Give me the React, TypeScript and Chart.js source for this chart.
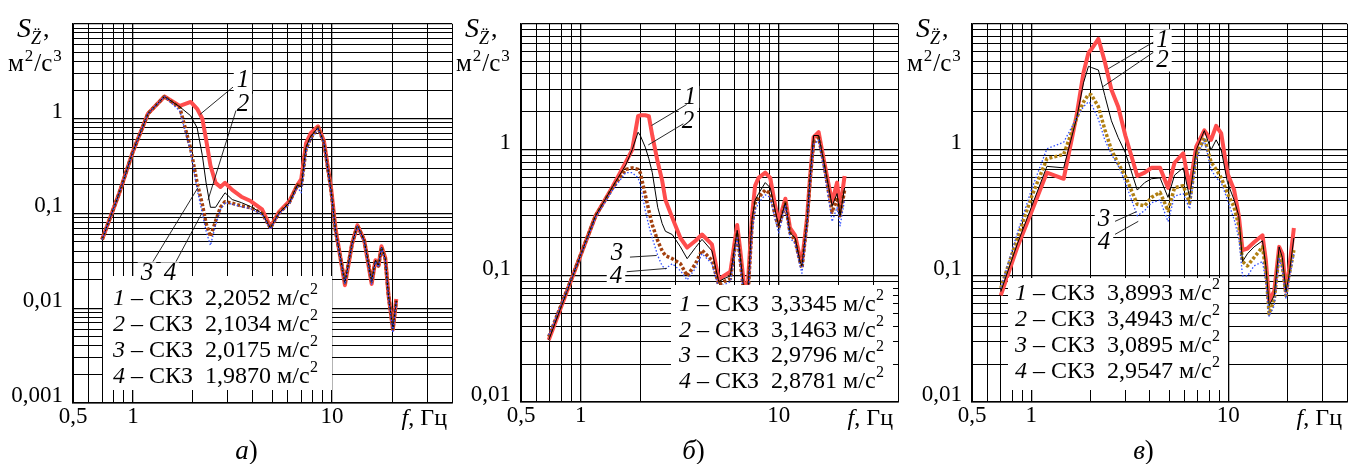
import { useEffect, useRef } from "react";
import { Chart, registerables } from "chart.js";

Chart.register(...registerables);

const SERIF = "'Liberation Serif', 'Times New Roman', serif";

// ---- shared axes ----
const X_TICKS = [0.5, 0.6, 0.7, 0.8, 0.9, 1, 2, 3, 4, 5, 6, 7, 8, 9, 10, 20, 30, 40];
const X_LABEL_VALUES = [0.5, 1, 10];
const X_LABEL_TEXT = ["0,5", "1", "10"];

const Y_LABEL_VALUES_A = [1, 0.1, 0.01, 0.001];
const Y_LABEL_TEXT_A = ["1", "0,1", "0,01", "0,001"];
const Y_LABEL_VALUES_BV = [1, 0.1, 0.01];
const Y_LABEL_TEXT_BV = ["1", "0,1", "0,01"];

const SERIES_NAMES = ["1", "2", "3", "4"];

// ---- panel а ----
const FREQ_A = [0.7, 0.85, 1.0, 1.19, 1.44, 1.72, 1.95, 2.1, 2.23, 2.33, 2.45, 2.6, 2.75, 2.9, 3.15, 3.5, 3.9, 4.45, 4.9, 5.4, 6.1, 6.7, 7.0, 7.4, 7.8, 8.5, 9.1, 9.9, 10.4, 11.6, 12.6, 13.4, 14.5, 15.8, 16.5, 17.1, 17.7, 18.5, 19.2, 20.2, 21.0];
const A_S1 = [0.053, 0.16, 0.45, 1.13, 1.71, 1.36, 1.5, 1.27, 1.0, 0.6, 0.32, 0.21, 0.19, 0.21, 0.177, 0.15, 0.135, 0.11, 0.072, 0.103, 0.135, 0.2, 0.23, 0.55, 0.7, 0.83, 0.58, 0.18, 0.07, 0.0175, 0.048, 0.075, 0.052, 0.018, 0.032, 0.028, 0.045, 0.034, 0.0137, 0.006, 0.0125];
const A_S2 = [0.053, 0.16, 0.45, 1.13, 1.71, 1.33, 1.07, 0.8, 0.41, 0.21, 0.116, 0.116, 0.14, 0.165, 0.14, 0.13, 0.118, 0.1, 0.07, 0.1, 0.13, 0.2, 0.19, 0.5, 0.65, 0.8, 0.56, 0.17, 0.066, 0.0185, 0.048, 0.074, 0.052, 0.019, 0.032, 0.028, 0.044, 0.033, 0.0135, 0.006, 0.012];
const A_S3 = [0.053, 0.16, 0.45, 1.13, 1.71, 1.3, 0.48, 0.21, 0.125, 0.078, 0.057, 0.083, 0.116, 0.133, 0.128, 0.12, 0.115, 0.1, 0.07, 0.1, 0.13, 0.2, 0.19, 0.48, 0.62, 0.8, 0.56, 0.17, 0.066, 0.0185, 0.048, 0.075, 0.052, 0.019, 0.032, 0.028, 0.044, 0.033, 0.0135, 0.006, 0.012];
const A_S4 = [0.053, 0.16, 0.45, 1.13, 1.71, 1.2, 0.45, 0.18, 0.1, 0.065, 0.046, 0.075, 0.11, 0.13, 0.125, 0.118, 0.112, 0.098, 0.068, 0.098, 0.125, 0.19, 0.165, 0.45, 0.6, 0.78, 0.55, 0.16, 0.064, 0.018, 0.047, 0.073, 0.05, 0.018, 0.031, 0.027, 0.043, 0.032, 0.013, 0.0055, 0.0115];
const RMS_A = ["2,2052", "2,1034", "2,0175", "1,9870"];

// ---- panel б ----
const FREQ_B = [0.69, 0.91, 1.19, 1.45, 1.69, 1.82, 1.95, 2.0, 2.12, 2.21, 2.3, 2.45, 2.58, 2.68, 2.9, 3.19, 3.45, 3.8, 4.1, 4.6, 4.98, 5.28, 5.7, 6.17, 6.4, 6.65, 6.93, 7.33, 7.6, 7.91, 8.55, 9.06, 9.6, 10.0, 10.8, 11.4, 12.1, 12.8, 13.1, 13.9, 14.4, 15.0, 15.9, 16.9, 17.9, 18.6, 19.7, 20.4, 21.5];
const B_S1 = [0.031, 0.099, 0.3, 0.51, 0.8, 1.0, 1.85, 1.88, 1.88, 1.85, 1.3, 0.8, 0.57, 0.4, 0.29, 0.2, 0.168, 0.19, 0.213, 0.178, 0.093, 0.1, 0.108, 0.254, 0.158, 0.09, 0.07, 0.3, 0.52, 0.6, 0.66, 0.6, 0.36, 0.27, 0.41, 0.24, 0.21, 0.14, 0.13, 0.29, 0.62, 1.26, 1.38, 0.83, 0.52, 0.385, 0.55, 0.34, 0.62];
const B_S2 = [0.031, 0.099, 0.3, 0.51, 0.76, 1.0, 1.38, 1.3, 1.05, 0.85, 0.66, 0.35, 0.26, 0.226, 0.213, 0.17, 0.137, 0.168, 0.195, 0.158, 0.09, 0.095, 0.1, 0.23, 0.14, 0.08, 0.06, 0.28, 0.4, 0.45, 0.55, 0.5, 0.33, 0.25, 0.38, 0.22, 0.2, 0.13, 0.12, 0.27, 0.6, 1.3, 1.3, 0.8, 0.5, 0.36, 0.45, 0.3, 0.5];
const B_S3 = [0.033, 0.1, 0.3, 0.5, 0.7, 0.72, 0.7, 0.66, 0.44, 0.33, 0.254, 0.19, 0.158, 0.145, 0.137, 0.125, 0.1, 0.125, 0.16, 0.133, 0.085, 0.09, 0.095, 0.22, 0.13, 0.075, 0.055, 0.25, 0.38, 0.42, 0.48, 0.45, 0.3, 0.24, 0.38, 0.22, 0.19, 0.13, 0.115, 0.27, 0.58, 1.15, 1.25, 0.78, 0.45, 0.32, 0.42, 0.3, 0.48];
const B_S4 = [0.034, 0.1, 0.29, 0.48, 0.66, 0.66, 0.6, 0.53, 0.33, 0.25, 0.2, 0.145, 0.12, 0.114, 0.125, 0.11, 0.093, 0.115, 0.15, 0.125, 0.08, 0.085, 0.09, 0.2, 0.12, 0.07, 0.05, 0.22, 0.33, 0.38, 0.44, 0.42, 0.28, 0.22, 0.36, 0.2, 0.18, 0.12, 0.105, 0.25, 0.55, 1.1, 1.2, 0.7, 0.4, 0.27, 0.35, 0.25, 0.4];
const RMS_B = ["3,3345", "3,1463", "2,9796", "2,8781"];

// ---- panel в ----
const FREQ_V = [0.7, 0.85, 1.0, 1.2, 1.46, 1.7, 1.84, 1.95, 2.02, 2.19, 2.36, 2.55, 2.76, 3.0, 3.45, 3.76, 4.07, 4.5, 4.94, 5.33, 5.9, 6.36, 6.87, 7.55, 8.17, 8.67, 9.2, 9.9, 10.7, 11.3, 11.8, 12.5, 13.5, 14.9, 15.5, 16.1, 17.1, 18.1, 18.8, 19.6, 20.3, 21.5];
const V_S1 = [0.07, 0.17, 0.32, 0.66, 0.59, 1.9, 4.1, 5.9, 6.3, 7.6, 5.0, 3.0, 2.2, 1.3, 0.62, 0.66, 0.72, 0.72, 0.5, 0.79, 0.94, 0.5, 1.06, 1.43, 1.2, 1.55, 1.35, 0.65, 0.48, 0.3, 0.16, 0.165, 0.185, 0.21, 0.133, 0.063, 0.076, 0.17, 0.15, 0.076, 0.11, 0.24];
const V_S2 = [0.075, 0.18, 0.35, 0.74, 0.72, 1.8, 3.4, 4.6, 4.5, 4.3, 2.7, 1.7, 1.25, 0.95, 0.48, 0.55, 0.59, 0.6, 0.42, 0.63, 0.72, 0.42, 1.0, 1.42, 1.0, 1.2, 1.0, 0.55, 0.4, 0.3, 0.13, 0.15, 0.17, 0.19, 0.12, 0.058, 0.07, 0.17, 0.14, 0.075, 0.1, 0.2];
const V_S3 = [0.08, 0.2, 0.42, 0.85, 0.92, 1.8, 2.4, 2.75, 2.72, 2.2, 1.45, 1.0, 0.78, 0.62, 0.37, 0.36, 0.42, 0.46, 0.33, 0.5, 0.52, 0.38, 0.9, 1.25, 0.8, 0.7, 0.6, 0.45, 0.35, 0.25, 0.13, 0.12, 0.14, 0.17, 0.11, 0.05, 0.065, 0.15, 0.12, 0.07, 0.1, 0.16];
const V_S4 = [0.08, 0.22, 0.48, 1.02, 1.15, 1.8, 2.2, 2.4, 2.3, 1.75, 1.2, 0.92, 0.75, 0.55, 0.3, 0.33, 0.38, 0.4, 0.27, 0.43, 0.45, 0.34, 0.85, 1.2, 0.7, 0.6, 0.55, 0.4, 0.28, 0.2, 0.1, 0.1, 0.12, 0.13, 0.09, 0.048, 0.058, 0.14, 0.11, 0.066, 0.09, 0.15];
const RMS_V = ["3,8993", "3,4943", "3,0895", "2,9547"];

// Curve callouts: label position, leader line start and end (Hz, m²/s³)
type Callout = { text: string; at: number[]; from: number[]; to: number[] };
const CALLOUTS_A: Callout[] = [
  { text: "1", at: [3.57, 2.53], from: [3.18, 2.15], to: [2.17, 1.106] },
  { text: "2", at: [3.57, 1.4], from: [3.29, 1.216], to: [2.38, 0.1376] },
  { text: "3", at: [1.176, 0.0233], from: [1.26, 0.031], to: [2.12, 0.187] },
  { text: "4", at: [1.534, 0.0233], from: [1.645, 0.031], to: [2.22, 0.101] },
];
const CALLOUTS_B: Callout[] = [
  { text: "1", at: [3.565, 2.63], from: [3.43, 2.29], to: [2.28, 1.56] },
  { text: "2", at: [3.48, 1.69], from: [3.3, 1.61], to: [2.195, 1.094] },
  { text: "3", at: [1.526, 0.1497], from: [1.774, 0.141], to: [2.42, 0.1453] },
  { text: "4", at: [1.508, 0.0994], from: [1.708, 0.108], to: [2.72, 0.1147] },
];
const CALLOUTS_V: Callout[] = [
  { text: "1", at: [4.63, 7.39], from: [4.16, 7.15], to: [2.457, 4.4] },
  { text: "2", at: [4.63, 5.12], from: [4.16, 5.93], to: [2.318, 3.185] },
  { text: "3", at: [2.337, 0.279], from: [2.66, 0.271], to: [3.42, 0.3236] },
  { text: "4", at: [2.337, 0.1854], from: [2.66, 0.2138], to: [3.49, 0.271] },
];

const RED = "#ff4d4d";
const BLUE = "#2f4dff";
const BROWN = "#a3400f";
const OCHRE = "#b07f12";

function decadeTicks(minExp: number, maxExp: number) {
  const out: number[] = [];
  for (let e = minExp; e < maxExp; e++) {
    for (let k = 1; k <= 9; k++) out.push(Number((k * Math.pow(10, e)).toPrecision(6)));
  }
  out.push(Math.pow(10, maxExp));
  return out;
}

const sameValue = (a: number, b: number) => Math.abs(Math.log10(a) - Math.log10(b)) < 1e-6;
const isDecade = (v: number) => {
  const l = Math.log10(v);
  return Math.abs(l - Math.round(l)) < 1e-6;
};

type Run = { text: string; font: string; dy?: number; dx?: number };
function runsWidth(ctx: CanvasRenderingContext2D, runs: Run[]) {
  let w = 0;
  for (const r of runs) {
    ctx.font = r.font;
    w += (r.dx || 0) + ctx.measureText(r.text).width;
  }
  return w;
}
function drawRuns(ctx: CanvasRenderingContext2D, x: number, y: number, runs: Run[]) {
  ctx.fillStyle = "#000";
  ctx.textAlign = "left";
  ctx.textBaseline = "alphabetic";
  let cx = x;
  for (const r of runs) {
    ctx.font = r.font;
    cx += r.dx || 0;
    ctx.fillText(r.text, cx, y + (r.dy || 0));
    cx += ctx.measureText(r.text).width;
  }
}

type LegendBox = { left: number; top: number; width: number; height: number; textLeft: number; firstBaseline: number; gap: number };

type PanelDef = {
  key: string;
  left: number;
  width: number;
  yWidth: number;
  padRight: number;
  xHeight: number;
  yMin: number;
  yTicks: number[];
  yLabelValues: number[];
  yLabelText: string[];
  freq: number[];
  series: number[][];
  brown: string;
  rms: string[];
  callouts: Callout[];
  legend: LegendBox;
  caption: string;
};

const PANELS: PanelDef[] = [
  {
    key: "a", left: 0, width: 462, yWidth: 73, padRight: 10, xHeight: 61, yMin: 0.001,
    yTicks: decadeTicks(-3, 1), yLabelValues: Y_LABEL_VALUES_A, yLabelText: Y_LABEL_TEXT_A,
    freq: FREQ_A, series: [A_S1, A_S2, A_S3, A_S4], brown: BROWN, rms: RMS_A, callouts: CALLOUTS_A,
    legend: { left: 30, top: 276, width: 229, height: 114, textLeft: 40, firstBaseline: 29, gap: 26 },
    caption: "а",
  },
  {
    key: "b", left: 455, width: 448, yWidth: 66, padRight: 5, xHeight: 62, yMin: 0.01,
    yTicks: decadeTicks(-2, 1), yLabelValues: Y_LABEL_VALUES_BV, yLabelText: Y_LABEL_TEXT_BV,
    freq: FREQ_B, series: [B_S1, B_S2, B_S3, B_S4], brown: BROWN, rms: RMS_B, callouts: CALLOUTS_B,
    legend: { left: 150, top: 285, width: 222, height: 116, textLeft: 158, firstBaseline: 26, gap: 25.7 },
    caption: "б",
  },
  {
    key: "v", left: 905, width: 443, yWidth: 67, padRight: 1, xHeight: 62, yMin: 0.01,
    yTicks: decadeTicks(-2, 1), yLabelValues: Y_LABEL_VALUES_BV, yLabelText: Y_LABEL_TEXT_BV,
    freq: FREQ_V, series: [V_S1, V_S2, V_S3, V_S4], brown: OCHRE, rms: RMS_V, callouts: CALLOUTS_V,
    legend: { left: 36, top: 278, width: 220, height: 112, textLeft: 43, firstBaseline: 22, gap: 26 },
    caption: "в",
  },
];

function makeDecor(p: PanelDef) {
  return {
    id: "decor",
    afterDatasetsDraw(chart: any) {
      const { ctx, chartArea: ca, scales } = chart;
      const px = (f: number) => scales.x.getPixelForValue(f);
      const py = (v: number) => scales.y.getPixelForValue(v);
      ctx.save();

      // legend with RMS values
      const lg = p.legend;
      ctx.fillStyle = "#fff";
      ctx.fillRect(ca.left + lg.left, lg.top, lg.width, lg.height);
      p.rms.forEach((val, i) => {
        drawRuns(ctx, ca.left + lg.textLeft, lg.top + lg.firstBaseline + i * lg.gap, [
          { text: SERIES_NAMES[i], font: `italic 24px ${SERIF}` },
          { text: ` – СКЗ  ${val} м/с`, font: `24px ${SERIF}` },
          { text: "2", font: `16px ${SERIF}`, dy: -11, dx: 0.5 },
        ]);
      });

      // curve callouts
      const labelFont = `italic 25px ${SERIF}`;
      ctx.font = labelFont;
      for (const c of p.callouts) {
        const lx = px(c.at[0]);
        const ly = py(c.at[1]);
        const w = ctx.measureText(c.text).width;
        ctx.fillStyle = "#fff";
        ctx.fillRect(lx - w / 2 - 3, ly - 11, w + 6, 22);
      }
      ctx.strokeStyle = "#111";
      ctx.lineWidth = 0.9;
      ctx.setLineDash([]);
      for (const c of p.callouts) {
        ctx.beginPath();
        ctx.moveTo(px(c.from[0]), py(c.from[1]));
        ctx.lineTo(px(c.to[0]), py(c.to[1]));
        ctx.stroke();
      }
      ctx.fillStyle = "#000";
      ctx.textAlign = "center";
      ctx.textBaseline = "middle";
      ctx.font = labelFont;
      for (const c of p.callouts) {
        ctx.fillText(c.text, px(c.at[0]), py(c.at[1]));
      }
      ctx.restore();
    },
    afterDraw(chart: any) {
      const { ctx, chartArea: ca } = chart;
      ctx.save();
      // vertical axis title
      drawRuns(ctx, ca.left - 56, 37, [
        { text: "S", font: `italic 28px ${SERIF}` },
        { text: "Z\u0308", font: `italic 18px ${SERIF}`, dy: 7, dx: 0 },
        { text: ",", font: `26px ${SERIF}`, dx: 2 },
      ]);
      drawRuns(ctx, ca.left - 65, 71, [
        { text: "м", font: `25px ${SERIF}` },
        { text: "2", font: `17px ${SERIF}`, dy: -10, dx: 1 },
        { text: "/с", font: `25px ${SERIF}`, dx: 1 },
        { text: "3", font: `17px ${SERIF}`, dy: -10, dx: 1 },
      ]);
      // horizontal axis title
      const xRuns: Run[] = [
        { text: "f", font: `italic 24px ${SERIF}` },
        { text: ", Гц", font: `24px ${SERIF}` },
      ];
      drawRuns(ctx, ca.right - 5 - runsWidth(ctx, xRuns), 425, xRuns);
      // panel caption
      const capRuns: Run[] = [
        { text: p.caption, font: `italic 27px ${SERIF}` },
        { text: ")", font: `27px ${SERIF}` },
      ];
      const cx = (ca.left + ca.right) / 2 - 16;
      drawRuns(ctx, cx - runsWidth(ctx, capRuns) / 2, 459, capRuns);
      ctx.restore();
    },
  };
}

function labelFor(value: number, values: number[], texts: string[]) {
  for (let i = 0; i < values.length; i++) if (sameValue(value, values[i])) return texts[i];
  return "";
}

function makeConfig(p: PanelDef): any {
  const styles = [
    { color: RED, width: 4, dash: [] as number[], order: 4 },
    { color: "#000", width: 1, dash: [] as number[], order: 2 },
    { color: p.brown, width: 3.5, dash: [3, 2], order: 3 },
    { color: BLUE, width: 1.3, dash: [1.5, 2], order: 1 },
  ];
  const gridWidth = (c: any) => (c.tick && isDecade(c.tick.value) ? 1.3 : 1);
  return {
    type: "line",
    data: {
      datasets: p.series.map((vals, i) => ({
        label: SERIES_NAMES[i],
        data: p.freq.map((f, j) => ({ x: f, y: vals[j] })),
        borderColor: styles[i].color,
        borderWidth: styles[i].width,
        borderDash: styles[i].dash,
        order: styles[i].order,
        pointRadius: 0,
        tension: 0,
        fill: false,
        borderJoinStyle: "round",
      })),
    },
    options: {
      responsive: false,
      animation: false,
      devicePixelRatio: 1,
      events: [],
      layout: { padding: { top: 14, right: p.padRight, left: 0, bottom: 0 } },
      plugins: { legend: { display: false }, tooltip: { enabled: false }, title: { display: false } },
      scales: {
        x: {
          type: "logarithmic",
          min: 0.5,
          max: 40,
          afterBuildTicks: (s: any) => {
            s.ticks = X_TICKS.map((v) => ({ value: v }));
          },
          afterFit: (s: any) => {
            s.height = p.xHeight;
          },
          ticks: {
            autoSkip: false,
            maxRotation: 0,
            minRotation: 0,
            padding: 0,
            color: "#000",
            font: { family: SERIF, size: 23 },
            callback: (v: number) => labelFor(v, X_LABEL_VALUES, X_LABEL_TEXT),
          },
          grid: { color: "#000", lineWidth: gridWidth, drawTicks: false },
          border: { color: "#000", width: 1.5 },
        },
        y: {
          type: "logarithmic",
          min: p.yMin,
          max: 10,
          afterBuildTicks: (s: any) => {
            s.ticks = p.yTicks.map((v) => ({ value: v }));
          },
          afterFit: (s: any) => {
            s.width = p.yWidth;
          },
          ticks: {
            autoSkip: false,
            padding: 10,
            labelOffset: -7,
            color: "#000",
            font: { family: SERIF, size: 23 },
            callback: (v: number) => labelFor(v, p.yLabelValues, p.yLabelText),
          },
          grid: { color: "#000", lineWidth: gridWidth, drawTicks: false },
          border: { color: "#000", width: 1.5 },
        },
      },
    },
    plugins: [makeDecor(p)],
  };
}

function Panel({ p }: { p: PanelDef }) {
  const ref = useRef<HTMLCanvasElement | null>(null);
  useEffect(() => {
    if (!ref.current) return;
    const chart = new Chart(ref.current, makeConfig(p));
    return () => chart.destroy();
  }, [p]);
  return (
    <canvas
      ref={ref}
      width={p.width}
      height={464}
      style={{ position: "absolute", left: p.left, top: 0, width: p.width, height: 464 }}
    />
  );
}

export default function App() {
  return (
    <div style={{ position: "absolute", left: 0, top: 0, width: 1348, height: 464, background: "#fff", overflow: "hidden" }}>
      {PANELS.map((p) => (
        <Panel key={p.key} p={p} />
      ))}
    </div>
  );
}
